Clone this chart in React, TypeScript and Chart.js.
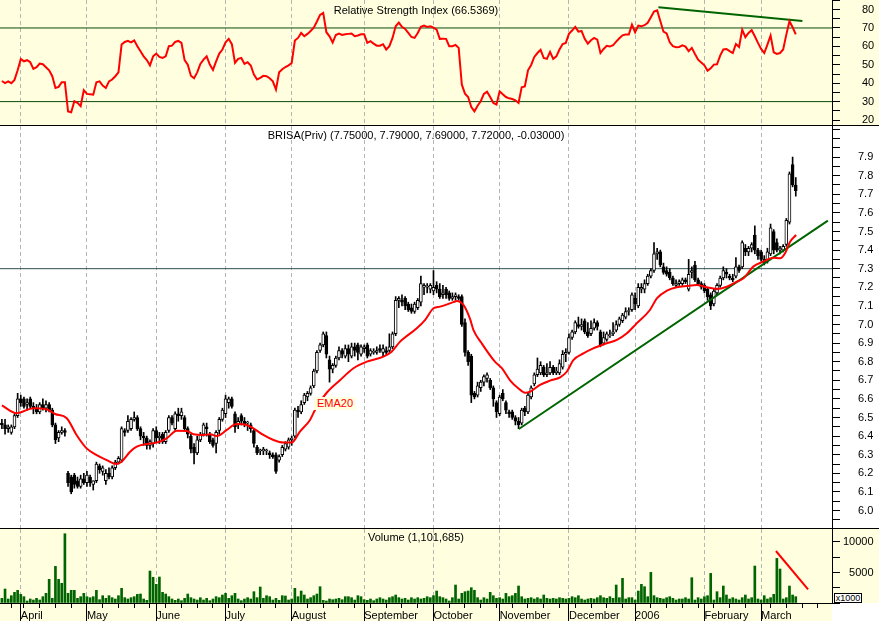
import React, { useEffect, useRef } from 'react';
import { Chart, registerables } from 'chart.js';

Chart.register(...registerables);

const FONT = '"Liberation Sans", Arial, Helvetica, sans-serif';
const PANEL_YELLOW = '#FFFFE0';
const GRID_GREY = '#B4B4B4';

// x values are trading-day indices (0 = 22 Mar 2005 ... 252 = 16 Mar 2006)
const xRange = [-0.6, 263.5];
const monthIdx = [6, 27, 49, 71, 92, 115, 137, 158, 180, 201, 223, 241];
const monthLabels = ['April', 'May', 'June', 'July', 'August', 'September', 'October', 'November', 'December', '2006', 'February', 'March'];
const weekIdx = [3, 7, 12, 17, 22, 32, 37, 42, 47, 52, 57, 62, 67, 72, 77, 82, 87, 97, 102, 107, 112, 117, 122, 127, 132, 142, 147, 152, 157, 162, 167, 172, 177, 182, 187, 192, 197, 206, 211, 216, 221, 226, 231, 236, 244, 249, 254, 259];

const opens = [
  6.47, 6.46, 6.44, 6.42, 6.45, 6.51, 6.60, 6.60, 6.57, 6.60,
  6.56, 6.55, 6.53, 6.57, 6.55, 6.57, 6.54, 6.46, 6.39, 6.42,
  6.43, 6.20, 6.18, 6.19, 6.16, 6.13, 6.17, 6.15, 6.18, 6.14,
  6.16, 6.24, 6.21, 6.16, 6.20, 6.18, 6.23, 6.26, 6.27, 6.43,
  6.43, 6.44, 6.49, 6.50, 6.44, 6.40, 6.39, 6.35, 6.36, 6.43,
  6.39, 6.41, 6.37, 6.43, 6.50, 6.44, 6.52, 6.51, 6.50, 6.44,
  6.40, 6.34, 6.31, 6.38, 6.41, 6.45, 6.41, 6.38, 6.36, 6.43,
  6.49, 6.52, 6.58, 6.60, 6.52, 6.46, 6.51, 6.48, 6.47, 6.46,
  6.43, 6.34, 6.32, 6.32, 6.32, 6.31, 6.30, 6.30, 6.27, 6.30,
  6.33, 6.34, 6.38, 6.40, 6.54, 6.53, 6.58, 6.61, 6.63, 6.67,
  6.75, 6.86, 6.89, 6.94, 6.81, 6.76, 6.78, 6.82, 6.86, 6.83,
  6.87, 6.83, 6.88, 6.89, 6.84, 6.87, 6.89, 6.84, 6.85, 6.85,
  6.87, 6.85, 6.86, 6.86, 6.88, 6.95, 7.13, 7.13, 7.14, 7.11,
  7.09, 7.07, 7.09, 7.12, 7.20, 7.20, 7.19, 7.18, 7.21, 7.19,
  7.16, 7.19, 7.17, 7.14, 7.15, 7.15, 7.15, 7.01, 6.85, 6.83,
  6.63, 6.62, 6.66, 6.69, 6.71, 6.70, 6.66, 6.58, 6.52, 6.63,
  6.58, 6.53, 6.53, 6.50, 6.48, 6.47, 6.55, 6.53, 6.61, 6.68,
  6.73, 6.74, 6.77, 6.73, 6.74, 6.77, 6.74, 6.74, 6.77, 6.84,
  6.85, 6.93, 6.96, 7.00, 6.99, 7.02, 6.96, 6.95, 6.98, 7.01,
  6.96, 6.90, 6.92, 6.94, 6.95, 6.97, 7.00, 7.02, 7.04, 7.07,
  7.08, 7.14, 7.10, 7.19, 7.19, 7.22, 7.26, 7.29, 7.38, 7.39,
  7.31, 7.29, 7.28, 7.25, 7.21, 7.22, 7.22, 7.24, 7.19, 7.28,
  7.32, 7.24, 7.22, 7.21, 7.19, 7.16, 7.11, 7.17, 7.21, 7.25,
  7.28, 7.26, 7.25, 7.26, 7.31, 7.31, 7.41, 7.39, 7.41, 7.48,
  7.40, 7.39, 7.35, 7.34, 7.38, 7.50, 7.44, 7.40, 7.40, 7.43,
  7.55, 7.86, 7.75,
];

const highs = [
  6.49, 6.49, 6.46, 6.46, 6.52, 6.63, 6.62, 6.61, 6.60, 6.61,
  6.58, 6.57, 6.58, 6.60, 6.59, 6.58, 6.55, 6.47, 6.43, 6.45,
  6.44, 6.21, 6.19, 6.20, 6.18, 6.19, 6.20, 6.21, 6.19, 6.16,
  6.26, 6.25, 6.24, 6.22, 6.23, 6.24, 6.27, 6.29, 6.45, 6.44,
  6.51, 6.50, 6.53, 6.51, 6.45, 6.42, 6.40, 6.38, 6.44, 6.45,
  6.42, 6.42, 6.43, 6.51, 6.51, 6.53, 6.55, 6.55, 6.51, 6.45,
  6.41, 6.36, 6.40, 6.42, 6.47, 6.47, 6.42, 6.39, 6.43, 6.50,
  6.55, 6.62, 6.61, 6.61, 6.53, 6.50, 6.52, 6.50, 6.48, 6.47,
  6.44, 6.35, 6.33, 6.34, 6.33, 6.32, 6.31, 6.31, 6.30, 6.35,
  6.37, 6.39, 6.40, 6.55, 6.56, 6.59, 6.63, 6.64, 6.67, 6.76,
  6.86, 6.90, 6.96, 6.96, 6.83, 6.79, 6.83, 6.88, 6.87, 6.89,
  6.89, 6.90, 6.90, 6.90, 6.89, 6.89, 6.90, 6.87, 6.87, 6.88,
  6.89, 6.89, 6.88, 6.95, 6.96, 7.15, 7.15, 7.16, 7.15, 7.12,
  7.11, 7.12, 7.14, 7.26, 7.22, 7.22, 7.22, 7.29, 7.23, 7.22,
  7.21, 7.20, 7.18, 7.17, 7.17, 7.16, 7.16, 7.03, 6.86, 6.84,
  6.64, 6.69, 6.70, 6.73, 6.74, 6.71, 6.67, 6.59, 6.62, 6.65,
  6.59, 6.54, 6.54, 6.51, 6.50, 6.55, 6.56, 6.63, 6.67, 6.74,
  6.82, 6.80, 6.78, 6.79, 6.80, 6.78, 6.77, 6.81, 6.86, 6.87,
  6.95, 6.97, 7.02, 7.04, 7.03, 7.03, 7.01, 7.02, 7.03, 7.02,
  6.97, 6.96, 6.96, 6.97, 7.01, 7.02, 7.04, 7.06, 7.09, 7.09,
  7.17, 7.17, 7.22, 7.22, 7.24, 7.27, 7.30, 7.44, 7.41, 7.40,
  7.33, 7.31, 7.30, 7.26, 7.24, 7.24, 7.25, 7.25, 7.35, 7.31,
  7.34, 7.25, 7.23, 7.22, 7.20, 7.17, 7.19, 7.22, 7.26, 7.31,
  7.30, 7.27, 7.27, 7.36, 7.32, 7.45, 7.43, 7.42, 7.44, 7.53,
  7.41, 7.40, 7.37, 7.41, 7.54, 7.51, 7.46, 7.42, 7.43, 7.57,
  7.82, 7.90, 7.79,
];

const lows = [
  6.44, 6.41, 6.42, 6.41, 6.44, 6.50, 6.56, 6.55, 6.54, 6.55,
  6.52, 6.52, 6.52, 6.54, 6.53, 6.53, 6.45, 6.36, 6.37, 6.41,
  6.40, 6.13, 6.09, 6.12, 6.12, 6.12, 6.14, 6.13, 6.13, 6.11,
  6.15, 6.20, 6.19, 6.14, 6.17, 6.17, 6.22, 6.25, 6.26, 6.40,
  6.42, 6.43, 6.48, 6.43, 6.38, 6.35, 6.33, 6.33, 6.34, 6.37,
  6.36, 6.36, 6.36, 6.42, 6.46, 6.43, 6.48, 6.49, 6.43, 6.39,
  6.31, 6.25, 6.30, 6.37, 6.40, 6.40, 6.36, 6.34, 6.31, 6.41,
  6.48, 6.50, 6.55, 6.55, 6.42, 6.44, 6.46, 6.45, 6.43, 6.42,
  6.34, 6.30, 6.30, 6.30, 6.30, 6.28, 6.28, 6.20, 6.26, 6.29,
  6.32, 6.33, 6.35, 6.39, 6.50, 6.52, 6.57, 6.59, 6.62, 6.66,
  6.74, 6.85, 6.88, 6.82, 6.69, 6.74, 6.77, 6.81, 6.82, 6.82,
  6.80, 6.82, 6.83, 6.81, 6.83, 6.85, 6.82, 6.83, 6.84, 6.84,
  6.85, 6.83, 6.84, 6.85, 6.87, 6.94, 7.09, 7.10, 7.08, 7.07,
  7.06, 7.06, 7.08, 7.10, 7.16, 7.17, 7.17, 7.16, 7.17, 7.14,
  7.14, 7.14, 7.13, 7.13, 7.13, 7.13, 6.99, 6.83, 6.78, 6.58,
  6.60, 6.61, 6.64, 6.67, 6.69, 6.65, 6.56, 6.50, 6.51, 6.59,
  6.52, 6.50, 6.49, 6.46, 6.44, 6.46, 6.51, 6.52, 6.60, 6.67,
  6.72, 6.73, 6.72, 6.72, 6.73, 6.73, 6.73, 6.73, 6.76, 6.80,
  6.84, 6.92, 6.95, 6.98, 6.97, 6.95, 6.93, 6.94, 6.97, 6.97,
  6.88, 6.89, 6.91, 6.93, 6.94, 6.96, 6.99, 7.01, 7.03, 7.05,
  7.07, 7.08, 7.09, 7.17, 7.17, 7.21, 7.25, 7.28, 7.35, 7.31,
  7.27, 7.26, 7.24, 7.21, 7.20, 7.21, 7.21, 7.22, 7.18, 7.25,
  7.23, 7.21, 7.19, 7.17, 7.13, 7.08, 7.10, 7.16, 7.20, 7.24,
  7.25, 7.24, 7.23, 7.25, 7.28, 7.30, 7.37, 7.37, 7.39, 7.38,
  7.35, 7.34, 7.32, 7.33, 7.37, 7.38, 7.39, 7.38, 7.39, 7.42,
  7.54, 7.74, 7.69,
];

const closes = [
  6.46, 6.44, 6.45, 6.45, 6.51, 6.60, 6.58, 6.56, 6.58, 6.56,
  6.55, 6.53, 6.57, 6.55, 6.57, 6.54, 6.46, 6.38, 6.42, 6.43,
  6.42, 6.15, 6.10, 6.14, 6.13, 6.17, 6.15, 6.19, 6.15, 6.16,
  6.25, 6.22, 6.23, 6.20, 6.18, 6.23, 6.26, 6.28, 6.44, 6.42,
  6.48, 6.49, 6.50, 6.44, 6.40, 6.39, 6.35, 6.37, 6.43, 6.39,
  6.40, 6.37, 6.42, 6.50, 6.47, 6.52, 6.51, 6.53, 6.44, 6.41,
  6.33, 6.31, 6.38, 6.41, 6.46, 6.44, 6.37, 6.35, 6.42, 6.49,
  6.54, 6.60, 6.60, 6.56, 6.45, 6.48, 6.48, 6.46, 6.47, 6.44,
  6.36, 6.31, 6.32, 6.33, 6.32, 6.30, 6.29, 6.21, 6.29, 6.34,
  6.36, 6.38, 6.39, 6.54, 6.53, 6.57, 6.62, 6.63, 6.66, 6.75,
  6.85, 6.89, 6.95, 6.84, 6.76, 6.78, 6.82, 6.86, 6.84, 6.87,
  6.84, 6.88, 6.86, 6.85, 6.88, 6.88, 6.83, 6.86, 6.85, 6.86,
  6.86, 6.87, 6.85, 6.88, 6.95, 7.13, 7.14, 7.12, 7.10, 7.08,
  7.07, 7.11, 7.13, 7.22, 7.21, 7.20, 7.21, 7.20, 7.19, 7.15,
  7.17, 7.16, 7.14, 7.15, 7.16, 7.14, 7.00, 6.85, 6.80, 6.62,
  6.61, 6.67, 6.69, 6.72, 6.73, 6.66, 6.60, 6.53, 6.61, 6.60,
  6.54, 6.52, 6.50, 6.48, 6.46, 6.54, 6.53, 6.62, 6.66, 6.73,
  6.76, 6.78, 6.73, 6.74, 6.77, 6.74, 6.75, 6.79, 6.84, 6.85,
  6.93, 6.96, 7.01, 6.99, 7.00, 6.96, 6.94, 6.98, 7.01, 6.99,
  6.89, 6.93, 6.95, 6.94, 6.96, 7.00, 7.03, 7.05, 7.07, 7.07,
  7.16, 7.11, 7.20, 7.20, 7.22, 7.26, 7.29, 7.38, 7.39, 7.32,
  7.28, 7.27, 7.25, 7.22, 7.22, 7.23, 7.24, 7.23, 7.27, 7.29,
  7.24, 7.22, 7.20, 7.18, 7.15, 7.10, 7.18, 7.21, 7.25, 7.29,
  7.27, 7.25, 7.24, 7.31, 7.29, 7.44, 7.39, 7.41, 7.43, 7.40,
  7.37, 7.35, 7.33, 7.39, 7.52, 7.40, 7.40, 7.41, 7.42, 7.56,
  7.81, 7.75, 7.72,
];

// volume in thousands of shares
const volumes = [
  764, 2293, 655, 1200, 1747, 2075, 1420, 1037, 328, 655,
  491, 764, 491, 1037, 1583, 3877, 764, 6006, 3877, 3221,
  11357, 1583, 2075, 2075, 764, 1037, 1583, 1037, 874, 1037,
  2075, 546, 1200, 764, 1200, 874, 655, 1200, 2402, 874,
  655, 874, 1037, 1420, 1474, 655, 437, 5242, 4204, 3058,
  4259, 1747, 1474, 1037, 655, 437, 655, 382, 764, 1474,
  874, 655, 491, 874, 491, 764, 382, 655, 1037, 874,
  1310, 1583, 764, 1200, 1583, 655, 382, 655, 874, 655,
  1856, 874, 2621, 764, 1200, 1037, 491, 764, 437, 1200,
  1147, 491, 655, 2402, 1037, 1965, 1310, 655, 874, 1200,
  1474, 2675, 437, 328, 655, 546, 655, 764, 546, 1037,
  1037, 874, 491, 1200, 1037, 546, 437, 655, 382, 655,
  874, 655, 491, 874, 1037, 1310, 874, 655, 764, 491,
  874, 655, 874, 655, 764, 1037, 874, 1200, 1965, 1037,
  874, 655, 328, 874, 2948, 655, 1583, 1856, 1965, 2512,
  2075, 874, 491, 874, 655, 1747, 1200, 764, 874, 655,
  1583, 1037, 1200, 1583, 2785, 1037, 655, 764, 874, 655,
  874, 655, 1310, 764, 655, 764, 655, 874, 764, 655,
  764, 1037, 874, 1200, 655, 491, 655, 764, 655, 874,
  1200, 874, 764, 1037, 764, 2948, 874, 4040, 655, 874,
  874, 491, 1965, 3058, 2675, 1037, 5023, 1200, 874, 764,
  655, 874, 1037, 764, 491, 655, 655, 874, 655, 4150,
  491, 874, 655, 1037, 1200, 4859, 491, 1856, 874, 2785,
  1310, 655, 874, 655, 491, 874, 1310, 655, 874, 6061,
  655, 491, 1200, 655, 874, 1420, 7316, 5569, 655, 874,
  2785, 1310, 1037,
];

const rsi = [
  41.2, 40.1, 41, 40, 41.8, 47, 53.2, 51.9, 52.5, 51.4,
  47.8, 48.7, 50.7, 50.3, 48.7, 47, 43.8, 37.4, 38, 40.5,
  40.5, 24.7, 24.2, 30.2, 29.3, 27.5, 36.2, 34.2, 34, 33.8,
  40.5, 41, 38.7, 37.4, 41, 42, 43.8, 45.9, 61, 62.4,
  63, 62.2, 63.3, 60.1, 57.4, 54.6, 52.6, 49.7, 54.6, 56.1,
  54.3, 53.7, 54.6, 60.1, 60.4, 62.4, 63, 61.9, 52.5, 50.1,
  44.1, 42.7, 45.9, 50.5, 52.8, 54.6, 50.1, 47.2, 51.9, 56.1,
  58.3, 62.2, 64.1, 61.2, 51, 53.2, 53.7, 50.5, 51.4, 49.6,
  44.7, 42, 42.9, 44, 43.8, 42.7, 41, 36.5, 45.9, 47.6,
  48.8, 49.7, 51, 63.2, 64.6, 67.3, 65.5, 66.8, 68.4, 70.2,
  73.5, 77.1, 78.2, 67.7, 65.5, 62.1, 66.2, 67, 66.2, 66.6,
  66.8, 67, 65.5, 65.9, 66.6, 66.6, 61.9, 62.8, 61.5, 60.4,
  60.4, 61.2, 58.3, 60.1, 64.6, 70.9, 72.9, 70.6, 69.5, 67.3,
  65.1, 64.6, 67.3, 70.6, 71.3, 70.6, 70.9, 70.2, 69.1, 64.1,
  64.2, 64.1, 60.1, 60.1, 60.8, 59.2, 39.2, 34.3, 32.5, 27.1,
  24.7, 27.8, 30.2, 34.2, 35.4, 32.5, 29.3, 28.4, 35.6, 34,
  32.5, 31.8, 31.4, 30.7, 29.3, 37.8, 38.3, 47, 49.9, 54.3,
  56.4, 58.1, 53.7, 53.2, 57, 53.2, 54.6, 58.3, 61.3, 61.9,
  66.8, 68.6, 70.6, 68, 68.4, 64.1, 61.5, 63.3, 64.6, 63.7,
  56.4, 58.6, 60.3, 59.9, 60.6, 62.6, 64.4, 66, 66.4, 66.4,
  71.8, 67.7, 71.3, 70.9, 71.5, 72.8, 75.8, 78.9, 79.6, 73.8,
  68, 67, 62.2, 60.1, 59.5, 59.7, 60.6, 59.9, 57.4, 59.2,
  55.9, 52.8, 51.2, 49.7, 46.8, 48.1, 50.1, 50.3, 55, 58.3,
  58.6, 57.4, 56.4, 61.3, 59.7, 69.1, 65, 67.3, 68.8, 65.5,
  61.9, 58.6, 56.4, 61, 65.9, 56.8, 55.9, 56.4, 58.3, 66.4,
  73.7, 70.4, 66.5,
];

// EMA20 at these bar positions
const emaIdx = [
  0, 4.7, 10, 14.2, 16.9, 20.6, 23.7, 26.9, 30.1, 33.3, 36.4, 38, 40.7, 42.8, 46, 49.1, 52.3, 55.5, 58.7, 60.8,
  63.9, 66.1, 68.2, 71.4, 74.5, 77.7, 79.8, 83, 86.2, 89.3, 92, 94.6, 97.8, 99.4, 103.1, 107.3, 111.6, 115.8, 121.1, 123.7,
  126.4, 131.7, 134.3, 137, 139.1, 143.3, 144.4, 146.5, 148.6, 149.7, 152.3, 156.5, 158.7, 161.3, 163.9, 166.1, 167.7, 170.8, 174, 177.2,
  179.3, 181.4, 184.6, 187.7, 189.9, 192, 195.2, 198.4, 201.5, 205.7, 207.9, 211.1, 214.2, 217.4, 220.6, 223.7, 226.9, 230.1, 233.3, 235.4,
  238.5, 241.7, 244.9, 247, 248.6, 250.2, 252.1,
];
const emaVal = [
  6.565, 6.523, 6.55, 6.544, 6.519, 6.496, 6.406, 6.334, 6.298, 6.271, 6.25, 6.262, 6.316, 6.343, 6.358, 6.365, 6.388, 6.429, 6.427, 6.41,
  6.406, 6.41, 6.40, 6.433, 6.465, 6.46, 6.442, 6.406, 6.379, 6.365, 6.365, 6.424, 6.487, 6.54, 6.633, 6.70, 6.765, 6.80, 6.827, 6.854,
  6.908, 6.98, 7.024, 7.087, 7.096, 7.12, 7.126, 7.105, 7.03, 6.97, 6.899, 6.80, 6.765, 6.70, 6.657, 6.633, 6.639, 6.675, 6.698, 6.716,
  6.746, 6.809, 6.845, 6.872, 6.886, 6.899, 6.917, 6.953, 7.006, 7.078, 7.141, 7.182, 7.20, 7.207, 7.212, 7.20, 7.191, 7.203, 7.23, 7.248,
  7.311, 7.338, 7.359, 7.356, 7.383, 7.445, 7.481,
];

const priceLevels = [7.3];
const rsiLevels = [30, 70];
const priceTrendIdx = [164.1, 262.2];
const priceTrendVal = [6.438, 7.558];
const rsiTrendIdx = [208.4, 254.1];
const rsiTrendVal = [81.2, 73.8];
const volTrendIdx = [245.7, 255.9];
const volTrendVal = [8525, 2246];

const rsiRange = [17.3, 85.2];
const priceRange = [5.906, 8.067];
const volRange = [0, 12131];
const volTicks = [0, 2500, 5000, 7500, 10000];
const volLabels = [5000, 10000];

function xScale(withAxis: boolean): any {
  const tickVals = withAxis ? [...monthIdx, ...weekIdx].sort((a, b) => a - b) : monthIdx.slice();
  return {
    type: 'linear',
    min: xRange[0],
    max: xRange[1],
    offset: false,
    afterBuildTicks: (s: any) => {
      s.ticks = tickVals.map((v) => ({ value: v }));
    },
    afterFit: (s: any) => {
      s.height = withAxis ? 18 : 0;
      s.paddingLeft = 0;
      s.paddingRight = 0;
      s.paddingTop = 0;
      s.paddingBottom = 0;
    },
    grid: {
      display: true,
      offset: false,
      drawOnChartArea: true,
      drawTicks: withAxis,
      color: (c: any) => (c.tick && monthIdx.includes(c.tick.value) ? GRID_GREY : 'rgba(0,0,0,0)'),
      lineWidth: 1,
      tickLength: 18,
      tickWidth: 1,
      tickColor: '#000000',
      tickBorderDash: (c: any) => (c.tick && monthIdx.includes(c.tick.value) ? [] : [4, 40]),
    },
    border: { display: withAxis, color: '#000000', width: 1, dash: [4, 3] },
    ticks: {
      display: withAxis,
      autoSkip: false,
      maxRotation: 0,
      minRotation: 0,
      align: 'start',
      padding: -12,
      color: '#000000',
      font: { family: FONT, size: 11 },
      callback: (v: any) => {
        const k = monthIdx.indexOf(v);
        return k >= 0 ? monthLabels[k] : '';
      },
    },
  };
}

function yScale(
  range: number[],
  step: number,
  padding: number,
  label: (v: number) => string,
  fixedTicks?: number[],
): any {
  const cfg: any = {
    position: 'right',
    min: range[0],
    max: range[1],
    afterFit: (s: any) => {
      s.width = 47;
      s.paddingTop = 0;
      s.paddingBottom = 0;
      s.paddingLeft = 0;
      s.paddingRight = 0;
    },
    grid: {
      display: true,
      drawOnChartArea: false,
      drawTicks: true,
      tickLength: 8,
      tickWidth: 1,
      tickColor: '#000000',
      color: '#000000',
    },
    border: { display: true, color: '#000000', width: 1 },
    ticks: {
      stepSize: step,
      includeBounds: false,
      autoSkip: false,
      padding,
      crossAlign: 'near',
      color: '#000000',
      font: { family: FONT, size: 11 },
      callback: label,
    },
  };
  if (fixedTicks) {
    cfg.afterBuildTicks = (s: any) => {
      s.ticks = fixedTicks.map((v) => ({ value: v }));
    };
  }
  return cfg;
}

function baseOptions(scales: any): any {
  return {
    animation: false,
    responsive: false,
    maintainAspectRatio: false,
    devicePixelRatio: 1,
    events: [],
    layout: { padding: 0 },
    plugins: { legend: { display: false }, tooltip: { enabled: false }, title: { display: false } },
    scales,
  };
}

function hLine(value: number, color: string, width: number, order: number): any {
  return {
    type: 'line',
    data: [
      { x: xRange[0], y: value },
      { x: xRange[1], y: value },
    ],
    borderColor: color,
    borderWidth: width,
    pointRadius: 0,
    order,
  };
}

function segment(idx: number[], val: number[], color: string, width: number, order: number): any {
  return {
    type: 'line',
    data: idx.map((x, k) => ({ x, y: val[k] })),
    borderColor: color,
    borderWidth: width,
    pointRadius: 0,
    order,
  };
}

function rsiConfig(): any {
  return {
    type: 'line',
    data: {
      datasets: [
        {
          type: 'line',
          data: rsi.map((v, i) => ({ x: i, y: v })),
          borderColor: '#FF0000',
          borderWidth: 2,
          pointRadius: 0,
          tension: 0,
          order: 0,
        },
        segment(rsiTrendIdx, rsiTrendVal, '#006400', 2, 1),
        ...rsiLevels.map((l) => hLine(l, '#0A4A0A', 1, 3)),
      ],
    },
    options: baseOptions({
      x: xScale(false),
      y: yScale(rsiRange, 5, 22, (v: number) => (v % 10 === 0 && v <= 80 ? String(v) : '')),
    }),
  };
}

function priceConfig(): any {
  return {
    type: 'bar',
    data: {
      datasets: [
        {
          type: 'line',
          data: emaIdx.map((x, k) => ({ x, y: emaVal[k] })),
          borderColor: '#FF0000',
          borderWidth: 2,
          pointRadius: 0,
          cubicInterpolationMode: 'monotone',
          order: 0,
        },
        segment(priceTrendIdx, priceTrendVal, '#006400', 2, 1),
        {
          type: 'bar',
          data: opens.map((o, i) => ({ x: i, y: [o, closes[i]] })),
          backgroundColor: opens.map((o, i) => (closes[i] >= o ? '#FFFFFF' : '#000000')),
          borderColor: '#000000',
          borderWidth: 1,
          borderSkipped: false,
          barThickness: 3,
          minBarLength: 1,
          grouped: false,
          order: 2,
        },
        {
          type: 'bar',
          data: lows.map((l, i) => ({ x: i, y: [l, highs[i]] })),
          backgroundColor: '#000000',
          borderWidth: 0,
          barThickness: 1,
          grouped: false,
          order: 3,
        },
        ...priceLevels.map((l) => hLine(l, '#2F4F4F', 1, 4)),
      ],
    },
    options: baseOptions({
      x: xScale(false),
      y: yScale(priceRange, 0.05, 18, (v: number) => {
        const t = Math.round(v * 100);
        return t % 10 === 0 && v < 7.95 ? (t / 100).toFixed(1) : '';
      }),
    }),
  };
}

function volumeConfig(): any {
  return {
    type: 'bar',
    data: {
      datasets: [
        segment(volTrendIdx, volTrendVal, '#FF0000', 2, 0),
        {
          type: 'bar',
          data: volumes.map((v, i) => ({ x: i, y: v })),
          backgroundColor: '#006400',
          borderWidth: 0,
          barThickness: 2,
          grouped: false,
          order: 1,
        },
      ],
    },
    options: baseOptions({
      x: xScale(true),
      y: yScale(
        volRange,
        2500,
        3,
        (v: number) => {
          const r = Math.round(v);
          if (!volLabels.includes(r)) return '';
          const s = String(r);
          // right-align the shorter label under the 5-digit one with a figure space
          return s.length < 5 ? '\u2007' + s : s;
        },
        volTicks,
      ),
    }),
  };
}

const abs = (left: number, top: number, width: number, height: number, extra: any = {}): any => ({
  position: 'absolute',
  left,
  top,
  width,
  height,
  ...extra,
});

const titleStyle = (top: number): any => ({
  position: 'absolute',
  left: 0,
  top,
  width: 832,
  textAlign: 'center',
  fontFamily: FONT,
  fontSize: 11,
  lineHeight: '13px',
  color: '#000000',
  whiteSpace: 'nowrap',
  pointerEvents: 'none',
});

export default function App() {
  const rsiRef = useRef<HTMLCanvasElement>(null);
  const priceRef = useRef<HTMLCanvasElement>(null);
  const volRef = useRef<HTMLCanvasElement>(null);

  useEffect(() => {
    Chart.defaults.font.family = FONT;
    const charts = [
      new Chart(rsiRef.current as HTMLCanvasElement, rsiConfig()),
      new Chart(priceRef.current as HTMLCanvasElement, priceConfig()),
      new Chart(volRef.current as HTMLCanvasElement, volumeConfig()),
    ];
    return () => charts.forEach((c) => c.destroy());
  }, []);

  return (
    <div style={abs(0, 0, 879, 621, { background: '#FFFFFF', overflow: 'hidden' })}>
      <div style={abs(0, 0, 879, 125, { background: PANEL_YELLOW })} />
      <div style={abs(0, 529, 879, 74, { background: PANEL_YELLOW })} />
      <div style={abs(0, 603, 832, 18, { background: PANEL_YELLOW })} />

      <canvas ref={rsiRef} width={879} height={125} style={abs(0, 0, 879, 125)} />
      <canvas ref={priceRef} width={879} height={402} style={abs(0, 126, 879, 402)} />
      <canvas ref={volRef} width={879} height={92} style={abs(0, 529, 879, 92)} />

      <div style={abs(0, 125, 879, 1, { background: '#000000' })} />
      <div style={abs(0, 528, 879, 1, { background: '#000000' })} />

      <div style={titleStyle(4)}>Relative Strength Index (66.5369)</div>
      <div style={titleStyle(129)}>BRISA(Priv) (7.75000, 7.79000, 7.69000, 7.72000, -0.03000)</div>
      <div style={titleStyle(531)}>Volume (1,101,685)</div>

      <div
        style={abs(314, 397, 42, 13, {
          background: PANEL_YELLOW,
          color: '#FF0000',
          fontFamily: FONT,
          fontSize: 11,
          lineHeight: '13px',
          textAlign: 'center',
        })}
      >
        EMA20
      </div>

      <div
        style={abs(834, 593, 28, 10, {
          boxSizing: 'border-box',
          border: '1px solid #000000',
          background: '#FFFFFF',
          color: '#000000',
          fontFamily: FONT,
          fontSize: 9,
          lineHeight: '8px',
          textAlign: 'center',
          overflow: 'hidden',
        })}
      >
        x1000
      </div>
    </div>
  );
}
